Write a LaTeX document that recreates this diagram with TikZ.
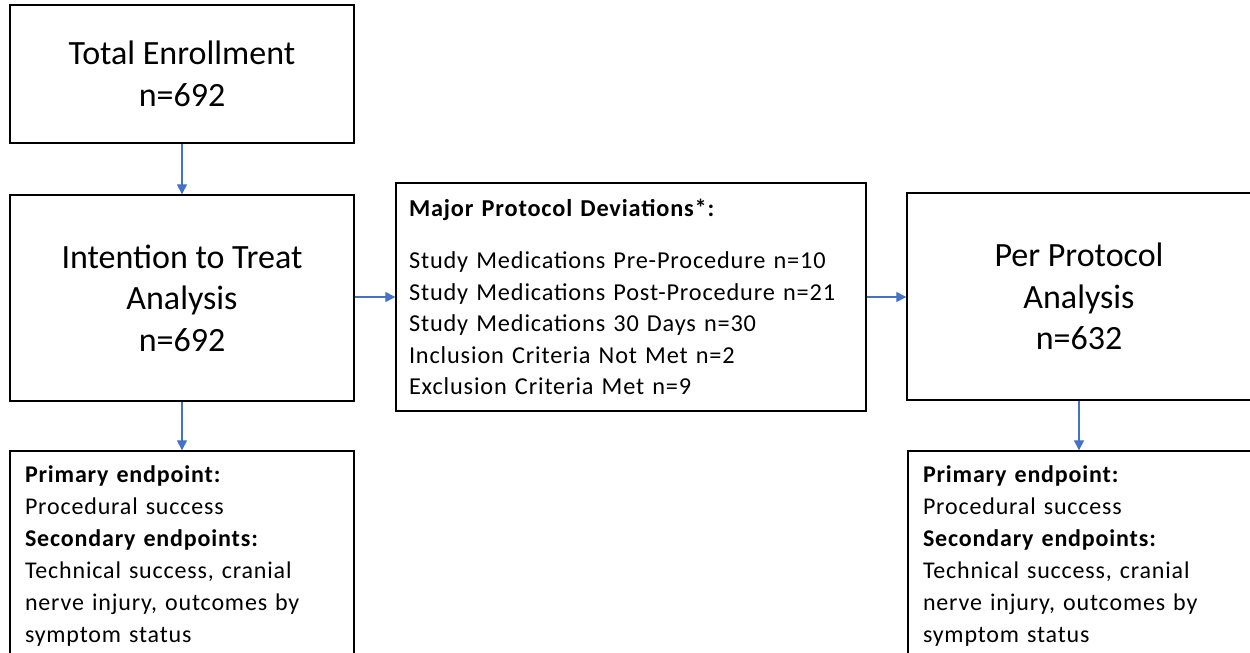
\documentclass[tikz,border=0pt]{standalone}
\usepackage{fontspec}
\setmainfont{Carlito}
\newfontfamily\spacedfont[LetterSpace=3.5]{Carlito}
\usetikzlibrary{arrows.meta}
\definecolor{arrowblue}{RGB}{68,114,196}
\begin{document}
\begin{tikzpicture}[x=1pt,y=-1pt,
  box/.style={draw=black,line width=1.3pt,inner sep=0pt},
  bigtext/.style={font=\fontsize{34}{41.5}\selectfont,align=center},
  listtext/.style={font=\spacedfont\fontsize{24.3}{31.5}\selectfont,align=left},
  endtext/.style={font=\spacedfont\fontsize{24}{32}\selectfont,align=left},
  conn/.style={draw=arrowblue,line width=1.1pt,-{Triangle[width=10pt,length=10pt]}}]
\useasboundingbox (0,0) rectangle (1250,653);
\clip (0,0) rectangle (1250,653);

\node[box,bigtext,minimum width=344pt,minimum height=138pt] (total) at (182,74)
  {Total Enrollment\\n=692};
\node[box,bigtext,minimum width=344pt,minimum height=206pt] (itt) at (182,298)
  {Intention to Treat\\Analysis\\n=692};
\node[box,listtext,minimum width=470pt,minimum height=228pt,text width=444pt] (dev) at (631,297)
  {\textbf{Major Protocol Deviations*:}\\[20.5pt]
   Study Medications Pre-Procedure n=10\\
   Study Medications Post-Procedure n=21\\
   Study Medications 30 Days n=30\\
   Inclusion Criteria Not Met n=2\\
   Exclusion Criteria Met n=9};
\node[box,bigtext,minimum width=344pt,minimum height=207pt] (pp) at (1079,296.5)
  {Per Protocol\\Analysis\\n=632};
\node[box,endtext,minimum width=344pt,minimum height=211pt,text width=314pt] (ittend) at (182,556.5)
  {\textbf{Primary endpoint:}\\
   Procedural success\\
   \textbf{Secondary endpoints:}\\
   Technical success, cranial\\
   nerve injury, outcomes by\\
   symptom status};
\node[box,endtext,minimum width=344pt,minimum height=211pt,text width=314pt] (ppend) at (1080,556.5)
  {\textbf{Primary endpoint:}\\
   Procedural success\\
   \textbf{Secondary endpoints:}\\
   Technical success, cranial\\
   nerve injury, outcomes by\\
   symptom status};

\draw[conn] (total.south) -- (itt.north);
\draw[conn] (itt.east |- dev.west) -- (dev.west);
\draw[conn] (dev.east) -- (dev.east -| pp.west);
\draw[conn] (itt.south) -- (ittend.north);
\draw[conn] (pp.south) -- (pp.south |- ppend.north);
\end{tikzpicture}
\end{document}
